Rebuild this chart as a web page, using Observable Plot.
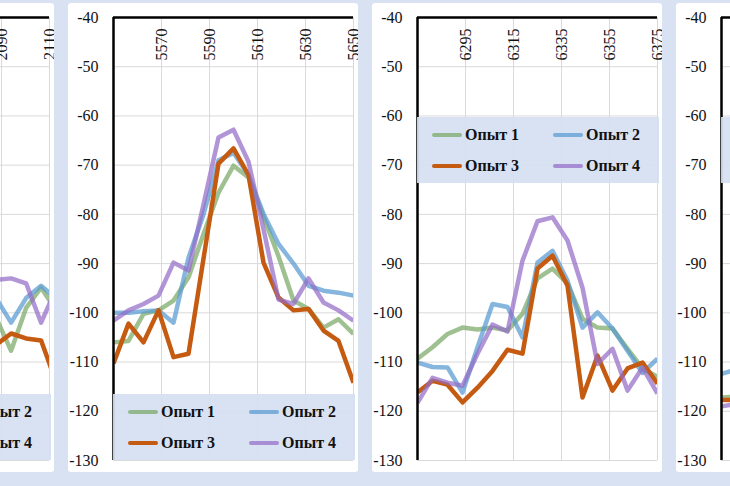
<!DOCTYPE html>
<html>
<head>
<meta charset="utf-8">
<script src="https://cdn.jsdelivr.net/npm/d3@7"></script>
<script src="https://cdn.jsdelivr.net/npm/@observablehq/plot@0.6"></script>
<style>
  html, body { margin: 0; padding: 0; }
  body { width: 730px; height: 486px; overflow: hidden; background: #d9e2f2; position: relative;
         font-family: "Liberation Serif", "Times New Roman", "DejaVu Serif", serif; }
  .panel { position: absolute; top: 3px; width: 290px; height: 469px; background: #fff; border-radius: 3px; overflow: hidden; }
  .panel svg, .panel svg text { font-family: "Liberation Serif", "Times New Roman", "DejaVu Serif", serif !important; }
  .legend { position: absolute; left: 45px; width: 242px; height: 66px; background: rgba(213,224,242,0.92); }
  .item { position: absolute; height: 20px; display: flex; align-items: center; font-weight: bold; font-size: 16px; color: #111; white-space: nowrap;
          font-family: "Liberation Serif", "Times New Roman", "DejaVu Serif", serif; }
  .sw { display: inline-block; width: 30px; height: 4.5px; margin-right: 3px; border-radius: 2px; }
</style>
</head>
<body>
<script>
// ---- data ----
const names = ["Опыт 1", "Опыт 2", "Опыт 3", "Опыт 4"];
const colors = ["#7aa866", "#589ad0", "#c55a11", "#936cc7"];
const opac = [0.72, 0.72, 1, 0.72];
const yTicks = [-40, -50, -60, -70, -80, -90, -100, -110, -120, -130];

const ticks1 = [2030, 2050, 2070, 2090, 2110];
const freq1 = [2087.75, 2094, 2100.25, 2106.5, 2112.75];
const green1 = [-101, -107.7, -99, -94.9, -99.5];
const blue1 = [-97, -102, -97, -94.5, -97.1];
const orange1 = [-106.5, -104.2, -105.2, -105.6, -114.1];
const purple1 = [-93.3, -93, -94, -102, -95.1];

const ticks2 = [5570, 5590, 5610, 5630, 5650];
const freq2 = [5550, 5556.25, 5562.5, 5568.75, 5575, 5581.25, 5587.5, 5593.75, 5600, 5606.25, 5612.5, 5618.75, 5625, 5631.25, 5637.5, 5643.75, 5650];
const green2 = [-106, -105.7, -100.2, -99.5, -97.5, -92.8, -84, -75.6, -70.1, -72.5, -80.5, -88.5, -97.5, -99.2, -103, -101.3, -104.3];
const blue2 = [-100, -100, -99.7, -99.5, -102, -88.8, -80, -69, -67.5, -72, -79.9, -86, -90, -94.5, -95.5, -95.9, -96.5];
const orange2 = [-110.3, -102.2, -106, -99.5, -109, -108.3, -89, -69.7, -66.6, -72, -89.8, -96.9, -99.5, -99.2, -103.6, -105.7, -114.2];
const purple2 = [-101.6, -99.5, -98.2, -96.5, -89.8, -91.4, -78, -64.4, -62.8, -69.3, -83, -97.3, -98.2, -93, -97.9, -99.5, -101.6];

const ticks3 = [6295, 6315, 6335, 6355, 6375];
const freq3 = [6275, 6281.25, 6287.5, 6293.75, 6300, 6306.25, 6312.5, 6318.75, 6325, 6331.25, 6337.5, 6343.75, 6350, 6356.25, 6362.5, 6368.75, 6375];
const green3 = [-109.3, -107, -104.3, -103, -103.4, -103, -103.6, -100.2, -93, -91, -94, -101.2, -103, -103.2, -107.3, -111.3, -113];
const blue3 = [-110.1, -111, -111.1, -116.2, -107, -98.2, -98.8, -105, -89.8, -87.4, -93.5, -103, -99.9, -103.2, -107.7, -112.2, -109.3];
const orange3 = [-116.2, -113.8, -114.6, -118.2, -115.2, -111.8, -107.5, -108.3, -91, -88.4, -94.5, -117.2, -108.7, -115.8, -111.3, -110.1, -114.4];
const purple3 = [-118.3, -113.2, -114.2, -114.8, -108.3, -102.4, -103.8, -89.4, -81.4, -80.6, -85.3, -94.9, -110.4, -107.3, -115.8, -111.1, -116.4];

const ticks4 = [6995, 7015, 7035, 7055, 7075];
const freq4 = [6975, 6981.25];
const green4 = [-117.2, -117];
const blue4 = [-112.4, -111.5];
const orange4 = [-117.7, -117.7];
const purple4 = [-119, -118.5];

const panels = [
  {left: -236, dom: [2010, 2110], ticks: ticks1, freq: freq1, series: [green1, blue1, orange1, purple1], legendTop: 391},
  {left: 68, dom: [5550, 5650], ticks: ticks2, freq: freq2, series: [green2, blue2, orange2, purple2], legendTop: 391},
  {left: 372, dom: [6275, 6375], ticks: ticks3, freq: freq3, series: [green3, blue3, orange3, purple3], legendTop: 114},
  {left: 676, dom: [6975, 7075], ticks: ticks4, freq: freq4, series: [green4, blue4, orange4, purple4], legendTop: 114}
];

const font = '"Liberation Serif", "Times New Roman", "DejaVu Serif", serif';

for (const p of panels) {
  const div = document.createElement("div");
  div.className = "panel";
  div.style.left = p.left + "px";
  document.body.appendChild(div);

  const lineMarks = p.series.map((vals, i) =>
    Plot.line(vals.map((v, j) => ({x: p.freq[j], y: v})), {
      x: "x", y: "y", stroke: colors[i], strokeOpacity: opac[i], strokeWidth: 4.5,
      strokeLinejoin: "round", strokeLinecap: "butt", clip: true
    })
  );

  const svg = Plot.plot({
    width: 290, height: 469,
    marginLeft: 45, marginRight: 5, marginTop: 14, marginBottom: 12,
    style: {fontFamily: font, fontSize: "16px", color: "#111", background: "transparent", overflow: "visible"},
    x: {domain: p.dom, axis: null},
    y: {domain: [-130, -40], axis: null},
    marks: [
      Plot.gridY(yTicks, {stroke: "#d9d9d9", strokeOpacity: 1, strokeWidth: 1}),
      Plot.gridX(p.ticks, {stroke: "#d9d9d9", strokeOpacity: 1, strokeWidth: 1}),
      ...lineMarks,
      Plot.ruleY([-40], {stroke: "#000", strokeWidth: 2.5}),
      Plot.ruleX([p.dom[0]], {stroke: "#000", strokeWidth: 2.5}),
      Plot.axisY(yTicks, {anchor: "left", label: null, tickSize: 0, tickPadding: 15, tickFormat: d => String(d), fontSize: 16, fill: "#111"}),
      Plot.text(p.ticks, {x: d => d, text: d => String(d), frameAnchor: "top", rotate: -90,
        textAnchor: "end", lineAnchor: "middle", dy: 11, fontSize: 16, fill: "#111"})
    ]
  });
  svg.style.position = "absolute";
  svg.style.left = "0px";
  svg.style.top = "0px";
  div.appendChild(svg);

  const lg = document.createElement("div");
  lg.className = "legend";
  lg.style.top = p.legendTop + "px";
  names.forEach((n, i) => {
    const it = document.createElement("div");
    it.className = "item";
    it.style.left = (i % 2 === 0 ? 15 : 136) + "px";
    it.style.top = (i < 2 ? 8 : 39) + "px";
    const sw = document.createElement("span");
    sw.className = "sw";
    sw.style.background = colors[i];
    sw.style.opacity = opac[i];
    it.appendChild(sw);
    it.appendChild(document.createTextNode(n));
    lg.appendChild(it);
  });
  div.appendChild(lg);
}
</script>
</body>
</html>
